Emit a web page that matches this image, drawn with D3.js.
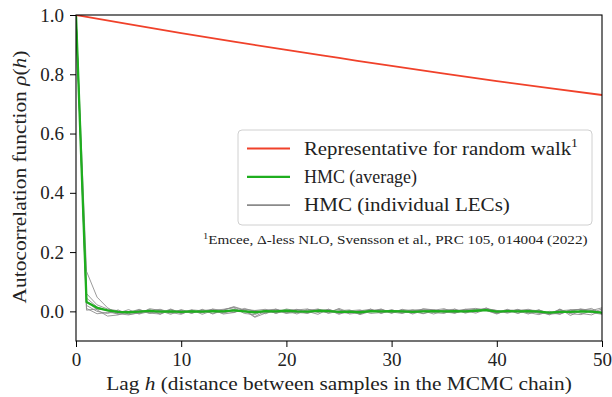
<!DOCTYPE html>
<html><head><meta charset="utf-8">
<script src="https://cdn.jsdelivr.net/npm/d3@7/dist/d3.min.js"></script>
<style>body{margin:0;background:#fff;}</style></head><body>
<svg id="c" width="612" height="397" font-family="Liberation Serif"></svg>
<script>
// ---- data ----
const xTicks = [0, 10, 20, 30, 40, 50];
const yTicks = [0.0, 0.2, 0.4, 0.6, 0.8, 1.0];
const redLags = [0, 5, 10, 15, 20, 25, 30, 35, 40, 45, 50];
const redValues = [1.0, 0.969, 0.939, 0.910, 0.882, 0.855, 0.828, 0.802, 0.777, 0.753, 0.730];
const hmcAverage = [1.0, 0.032, 0.012, 0.003, -0.002, -0.003, -0.001, 0.002, -0.001, 0.000, -0.002,
  0.000, -0.001, 0.001, 0.000, 0.003, 0.000, -0.003, 0.001, 0.000, 0.002, 0.000, -0.001, 0.002,
  0.001, -0.002, -0.001, -0.003, 0.001, 0.000, 0.001, 0.000, -0.002, 0.000, 0.001, 0.000, 0.001,
  0.000, 0.002, 0.004, -0.001, 0.001, 0.000, 0.001, -0.001, -0.004, -0.002, -0.002, 0.000, -0.001, -0.004];
const gray1 = [1.0, 0.135, 0.048, 0.012, -0.008, -0.012, -0.004, 0.006, -0.010, 0.005, -0.007,
  0.003, -0.005, 0.008, 0.002, -0.004, 0.010, 0.000, -0.008, 0.005, 0.003, -0.009, 0.007, 0.002,
  -0.005, 0.010, -0.004, 0.002, 0.007, -0.007, 0.004, 0.000, -0.006, 0.009, 0.005, -0.004, 0.002,
  0.007, 0.010, 0.003, -0.007, 0.002, 0.005, -0.004, -0.011, 0.000, -0.009, 0.004, 0.007, -0.005, 0.008];
const gray2 = [1.0, 0.060, 0.022, 0.008, 0.002, -0.008, 0.005, -0.004, 0.002, -0.010, 0.004,
  -0.006, 0.007, -0.009, 0.004, 0.016, 0.005, -0.018, 0.002, -0.004, 0.008, 0.002, -0.007, 0.005,
  -0.002, 0.007, -0.009, -0.004, 0.005, 0.002, -0.006, 0.007, 0.000, -0.008, 0.004, 0.009, -0.004,
  0.005, -0.002, 0.012, -0.006, 0.004, -0.007, 0.005, 0.002, -0.012, 0.008, -0.014, 0.003, 0.010, -0.009];
const gray3 = [1.0, 0.045, 0.015, 0.002, -0.010, -0.004, 0.007, -0.006, -0.009, 0.006, -0.002,
  0.005, -0.010, 0.003, 0.007, 0.012, -0.007, -0.011, 0.005, 0.007, -0.004, 0.005, 0.000, -0.010,
  0.007, -0.006, 0.003, -0.011, 0.000, 0.008, -0.004, 0.005, -0.009, 0.003, -0.002, 0.005, 0.007,
  -0.006, 0.003, 0.010, 0.002, -0.004, 0.007, -0.006, 0.000, -0.006, 0.005, -0.008, -0.011, 0.003, 0.012];
const gray4 = [1.0, 0.035, 0.005, -0.016, -0.012, 0.000, -0.008, 0.009, 0.003, -0.006, 0.006,
  -0.004, 0.003, -0.007, 0.005, 0.014, 0.003, -0.020, -0.006, 0.003, -0.007, 0.005, 0.008, -0.004,
  0.005, -0.010, 0.002, 0.005, -0.007, -0.004, 0.006, -0.006, 0.005, 0.002, -0.009, 0.003, -0.006,
  0.007, 0.002, 0.005, -0.004, 0.007, -0.006, 0.003, -0.007, -0.004, -0.010, 0.005, -0.007, -0.012, 0.003];
const gray5 = [1.0, 0.020, 0.000, -0.007, 0.005, -0.010, -0.006, 0.003, 0.007, -0.004, -0.010,
  0.005, 0.002, 0.007, -0.009, -0.004, 0.007, 0.003, -0.004, 0.008, -0.006, -0.004, 0.003, 0.008,
  -0.007, 0.002, 0.005, -0.008, 0.008, -0.006, 0.003, -0.004, 0.002, 0.005, -0.004, -0.007, 0.008,
  -0.004, 0.005, 0.003, -0.009, 0.005, 0.002, -0.009, 0.005, -0.007, 0.002, 0.005, 0.007, -0.004, -0.010];
const gray6 = [1.0, 0.010, -0.008, -0.004, -0.006, 0.006, -0.009, 0.000, -0.006, 0.008, -0.007,
  0.002, -0.004, 0.005, -0.004, 0.007, -0.002, 0.003, 0.007, -0.007, 0.005, -0.004, -0.006, 0.007,
  0.003, -0.007, 0.000, -0.009, 0.003, 0.005, -0.002, -0.007, 0.003, 0.007, 0.005, -0.002, -0.006,
  0.003, 0.007, 0.008, 0.003, -0.006, 0.003, 0.007, -0.004, -0.010, -0.006, 0.000, 0.008, 0.003, -0.006];
const gray7 = [1.0, 0.004, 0.008, 0.004, -0.002, -0.004, 0.003, -0.007, 0.005, -0.004, 0.003,
  -0.007, 0.005, 0.000, -0.006, 0.003, 0.005, -0.007, 0.003, -0.006, 0.002, 0.007, -0.004, 0.000,
  0.007, -0.004, -0.006, 0.003, -0.002, 0.007, -0.006, 0.003, 0.005, -0.007, 0.000, 0.005, -0.004,
  0.002, -0.006, 0.007, 0.003, -0.002, 0.005, -0.002, 0.005, -0.009, 0.007, -0.006, 0.002, 0.005, -0.007];
const graySeries = [gray1, gray2, gray3, gray4, gray5, gray6, gray7];
const legendLabels = ["Representative for random walk", "HMC (average)", "HMC (individual LECs)"];
const footnote = "Emcee, \u0394-less NLO, Svensson et al., PRC 105, 014004 (2022)";

// ---- layout ----
const FONT = "Liberation Serif";
const svg = d3.select("#c");
const m = {l: 76, r: 10, t: 15, b: 56};
const W = 612, H = 397;
const x = d3.scaleLinear().domain([0, 50]).range([m.l, W - m.r]);
const y = d3.scaleLinear().domain([-0.1, 1.0]).range([H - m.b, m.t]);

// a text placed in a group; the group is stretched horizontally so the text spans the reference width
function label(tx, ty, rot, size, anchor, target) {
  const g = svg.append("g");
  const t = g.append("text").attr("x", 0).attr("y", 0).attr("font-size", size)
    .attr("text-anchor", anchor).attr("fill", "#222").attr("font-family", FONT);
  return {g, t, done() {
    const w = t.node().getComputedTextLength();
    const sx = target / w;
    g.attr("transform", `translate(${tx},${ty})` + (rot ? ` rotate(${rot})` : "") + ` scale(${sx.toFixed(4)},1)`);
  }};
}

svg.append("defs").append("clipPath").attr("id", "clip")
  .append("rect").attr("x", m.l).attr("y", m.t).attr("width", W - m.l - m.r).attr("height", H - m.t - m.b);

const plot = svg.append("g").attr("clip-path", "url(#clip)");
const line = d3.line().x((d, i) => x(i)).y(d => y(d));

graySeries.forEach(s => {
  plot.append("path").attr("d", line(s)).attr("fill", "none")
    .attr("stroke", "#8a8a8a").attr("stroke-width", 1).attr("stroke-opacity", 0.85);
});
plot.append("path").attr("d", line(hmcAverage)).attr("fill", "none")
  .attr("stroke", "#1eae1e").attr("stroke-width", 2.3).attr("stroke-linejoin", "round");
plot.append("path")
  .attr("d", d3.line().x((d, i) => x(redLags[i])).y(d => y(d)).curve(d3.curveMonotoneX)(redValues))
  .attr("fill", "none").attr("stroke", "#f0412a").attr("stroke-width", 1.8);

// axes
const xa = svg.append("g").attr("transform", `translate(0,${H - m.b})`)
  .call(d3.axisBottom(x).tickValues(xTicks).tickFormat(d3.format("d")).tickSize(6).tickPadding(6));
const ya = svg.append("g").attr("transform", `translate(${m.l},0)`)
  .call(d3.axisLeft(y).tickValues(yTicks).tickFormat(d3.format(".1f")).tickSize(6).tickPadding(6));
[xa, ya].forEach(a => {
  a.attr("font-family", FONT).attr("font-size", 19);
  a.select(".domain").remove();
  a.selectAll(".tick line").attr("stroke", "#000").attr("stroke-width", 1);
  a.selectAll(".tick text").attr("font-size", 19).attr("fill", "#222").attr("font-family", FONT);
});
svg.append("rect").attr("x", m.l).attr("y", m.t).attr("width", W - m.l - m.r).attr("height", H - m.t - m.b)
  .attr("fill", "none").attr("stroke", "#000").attr("stroke-width", 1.1);

// axis labels
const xl = label((m.l + W - m.r) / 2, 390, 0, 19, "middle", 466);
xl.t.append("tspan").text("Lag ");
xl.t.append("tspan").attr("font-style", "italic").text("h");
xl.t.append("tspan").text(" (distance between samples in the MCMC chain)");
xl.done();

const yl = label(26, 177, -90, 19, "middle", 253);
yl.t.append("tspan").text("Autocorrelation function ");
yl.t.append("tspan").attr("font-style", "italic").text("\u03C1");
yl.t.append("tspan").text("(");
yl.t.append("tspan").attr("font-style", "italic").text("h");
yl.t.append("tspan").text(")");
yl.done();

// legend
svg.append("rect").attr("x", 238).attr("y", 130).attr("width", 354).attr("height", 95)
  .attr("rx", 4).attr("fill", "#fff").attr("fill-opacity", 0.85).attr("stroke", "#d0d0d0").attr("stroke-width", 1);
const legColors = ["#f0412a", "#1eae1e", "#8a8a8a"];
const legWidths = [1.8, 2.2, 1.6];
const legTargets = [274, 113, 206];
legendLabels.forEach((lab, i) => {
  const yy = 148.5 + i * 28.3;
  svg.append("line").attr("x1", 247).attr("x2", 290).attr("y1", yy).attr("y2", yy)
    .attr("stroke", legColors[i]).attr("stroke-width", legWidths[i]);
  const L = label(304, yy + 6, 0, 19, "start", legTargets[i]);
  L.t.append("tspan").text(lab);
  if (i === 0) L.t.append("tspan").attr("font-size", 12.5).attr("dy", -8).text("1");
  L.done();
});
const fn = label(203, 244, 0, 13, "start", 385);
fn.t.append("tspan").attr("font-size", 9).attr("dy", -5).text("1");
fn.t.append("tspan").attr("dy", 5).text(footnote);
fn.done();
</script>
</body></html>
